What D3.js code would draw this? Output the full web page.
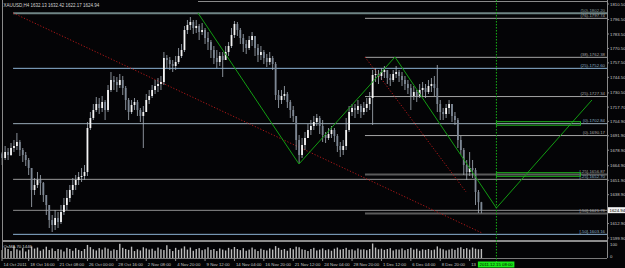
<!DOCTYPE html>
<html>
<head>
<meta charset="utf-8">
<script src="https://cdnjs.cloudflare.com/ajax/libs/d3/7.8.5/d3.min.js"></script>
<style>
  html, body { margin: 0; padding: 0; background: #040406; overflow: hidden; }
  svg { display: block; font-family: "Liberation Sans", "DejaVu Sans", sans-serif; }
</style>
</head>
<body>
<div id="chart"></div>
<script>

    /**
     *  Chart data
     */
    var titleText = "XAUUSD,H4  1632.13 1632.42 1622.17 1624.94";
    var subTitleText = "OsMA 70.1446";
    var cursorDate = "2011.12.15 08:00";
    var lastPrice = 1624.94;

    var firstOpen = 1676.0;
    var closes = [1671.9,1677.3,1674.6,1680.9,1682.7,1686.3,1679.1,1674.6,1670.1,1662.9,
                  1643.1,1647.6,1652.1,1649.4,1638.6,1629.6,1616.1,1611.6,1617.9,1614.3,
                  1623.3,1629.6,1635.9,1643.1,1647.6,1652.1,1654.8,1655.7,1659.3,1698.9,
                  1707.9,1715.1,1720.5,1716.9,1722.3,1715.1,1733.1,1742.1,1740.3,1737.6,
                  1742.1,1734.9,1724.1,1713.3,1719.6,1722.3,1715.1,1709.7,1713.3,1724.1,
                  1727.7,1733.1,1736.7,1738.5,1740.3,1761.9,1760.1,1756.5,1754.7,1758.3,
                  1763.7,1769.1,1787.1,1791.6,1794.3,1788.9,1790.7,1785.3,1787.1,1779.9,
                  1776.3,1769.1,1761.9,1758.3,1763.7,1760.1,1767.3,1772.7,1782.6,1792.5,
                  1787.1,1779.9,1774.5,1770.9,1778.1,1781.7,1770.9,1764.6,1767.3,1761.9,
                  1758.3,1761.9,1756.5,1728.6,1724.1,1727.7,1729.5,1722.3,1715.1,1709.7,
                  1688.1,1674.6,1683.6,1689.9,1697.1,1700.7,1704.3,1707.9,1700.7,1692.6,
                  1689.9,1693.5,1697.1,1691.7,1682.7,1679.1,1682.7,1697.1,1713.3,1716.9,
                  1715.1,1718.7,1713.3,1716.9,1720.5,1725.9,1746.6,1747.5,1745.7,1749.3,
                  1751.1,1743.9,1742.1,1747.5,1749.3,1745.7,1742.1,1738.5,1734.9,1727.7,
                  1731.3,1727.7,1733.1,1734.9,1731.3,1736.7,1738.5,1734.9,1720.5,1713.3,
                  1711.5,1716.9,1720.5,1709.7,1706.1,1688.1,1679.1,1665.6,1659.3,1662.9,
                  1661.1,1641.3,1632.13,1624.94];
    var highs  = [1677.3,1682.7,1680.9,1685.4,1688.1,1694.4,1688.1,1680.9,1677.3,1671.9,
                  1661.1,1653.9,1659.3,1656.6,1650.3,1638.6,1629.6,1620.6,1625.1,1623.3,
                  1629.6,1635.9,1643.1,1647.6,1653.9,1656.6,1659.3,1662.9,1665.6,1704.3,
                  1713.3,1720.5,1726.8,1725.9,1727.7,1724.1,1737.6,1749.3,1745.7,1744.8,
                  1747.5,1745.7,1736.7,1725.9,1724.1,1725.9,1724.1,1716.9,1718.7,1729.5,
                  1733.1,1737.6,1742.1,1743.9,1745.7,1767.3,1764.6,1762.8,1760.1,1763.7,
                  1770.9,1774.5,1790.7,1796.1,1798.8,1796.1,1796.1,1792.5,1793.4,1788.9,
                  1785.3,1778.1,1772.7,1769.1,1767.3,1767.3,1772.7,1776.3,1788.9,1795.2,
                  1794.3,1788.9,1783.5,1778.1,1781.7,1785.3,1781.7,1774.5,1772.7,1769.1,
                  1765.5,1767.3,1763.7,1758.3,1733.1,1733.1,1736.7,1731.3,1724.1,1718.7,
                  1709.7,1692.6,1689.9,1695.3,1702.5,1706.1,1709.7,1711.5,1709.7,1706.1,
                  1695.3,1698.9,1700.7,1698.9,1693.5,1686.3,1688.1,1707.9,1718.7,1720.5,
                  1720.5,1724.1,1720.5,1722.3,1725.9,1731.3,1751.1,1752.9,1751.1,1752.9,
                  1754.7,1749.3,1747.5,1751.1,1754.7,1751.1,1749.3,1745.7,1742.1,1738.5,
                  1736.7,1733.1,1738.5,1740.3,1738.5,1742.1,1743.9,1745.7,1755.6,1724.1,
                  1716.9,1720.5,1724.1,1720.5,1713.3,1707.9,1691.7,1680.9,1670.1,1677.3,
                  1670.1,1662.9,1643.1,1632.42];
    var lows   = [1665.6,1670.1,1670.1,1673.7,1677.3,1679.1,1673.7,1668.3,1664.7,1656.6,
                  1627.8,1638.6,1644.9,1638.6,1632.3,1620.6,1608.9,1605.3,1607.1,1608.9,
                  1612.5,1620.6,1625.1,1632.3,1638.6,1643.1,1647.6,1650.3,1652.1,1655.7,
                  1697.1,1706.1,1713.3,1711.5,1713.3,1706.1,1713.3,1731.3,1733.1,1731.3,
                  1734.9,1728.6,1715.1,1706.1,1711.5,1715.1,1709.7,1704.3,1680.9,1713.3,
                  1720.5,1725.9,1729.5,1731.3,1733.1,1737.6,1752.9,1751.1,1749.3,1751.1,
                  1756.5,1761.9,1767.3,1783.5,1787.1,1783.5,1784.4,1778.1,1782.6,1774.5,
                  1769.1,1761.9,1756.5,1752.9,1754.7,1744.8,1760.1,1763.7,1770.9,1779.9,
                  1781.7,1774.5,1767.3,1765.5,1769.1,1772.7,1763.7,1758.3,1760.1,1756.5,
                  1753.8,1755.6,1751.1,1724.1,1716.9,1720.5,1724.1,1716.9,1707.9,1704.3,
                  1679.1,1667.4,1671.9,1679.1,1689.9,1692.6,1697.1,1700.7,1693.5,1686.3,
                  1685.4,1688.1,1689.9,1686.3,1677.3,1672.8,1674.6,1679.1,1695.3,1709.7,
                  1707.9,1711.5,1707.9,1710.6,1713.3,1715.1,1701.6,1740.3,1738.5,1742.1,
                  1743.9,1738.5,1736.7,1740.3,1743.9,1740.3,1736.7,1733.1,1729.5,1715.1,
                  1724.1,1722.3,1725.9,1727.7,1725.9,1729.5,1731.3,1727.7,1713.3,1706.1,
                  1706.1,1707.9,1711.5,1704.3,1701.6,1680.9,1674.6,1656.6,1652.1,1655.7,
                  1653.9,1629.6,1622.4,1622.17];
    var volumes = [55,70,62,48,75,60,52,68,45,58,
                   80,65,72,50,60,78,55,66,48,62,
                   58,45,70,62,50,68,56,48,62,90,
                   75,60,52,68,58,72,64,50,60,55,
                   98,70,62,56,78,48,60,52,74,66,
                   58,64,50,72,60,55,88,62,48,70,
                   56,66,80,58,72,50,62,68,54,60,
                   74,56,62,48,66,58,52,70,60,76,
                   62,54,68,50,58,72,60,48,64,56,
                   52,66,58,82,70,56,62,50,68,60,
                   78,74,60,56,48,62,70,52,58,66,
                   54,60,50,64,72,58,62,70,56,60,
                   52,66,58,60,54,62,100,72,60,64,
                   56,62,68,52,60,58,66,54,62,70,
                   58,64,50,60,56,62,54,58,80,66,
                   60,52,58,64,56,70,74,62,68,58,
                   72,64,60,62];

    var priceTicks = [1810.50,1796.50,1783.50,1770.50,1757.50,1744.50,1730.50,1717.70,
                      1704.90,1691.90,1678.90,1664.90,1651.90,1638.90,1612.90,1599.90];
    var volumeTicks = [100, 0];

    // the last label is cut off by the cursor date box in the original
    var timeLabels = ["14 Oct 2011","18 Oct 16:00","21 Oct 08:00","26 Oct 00:00","28 Oct 16:00",
                      "2 Nov 08:00","4 Nov 20:00","9 Nov 12:00","14 Nov 04:00","16 Nov 20:00",
                      "21 Nov 12:00","24 Nov 04:00","28 Nov 20:00","1 Dec 12:00","6 Dec 04:00",
                      "8 Dec 20:00","13"];
    var timeLabelBars = [0,9,19,29,39,49,59,69,79,89,99,109,119,129,139,149,159];

    // long levels, drawn from the left trendline anchor
    var levelsAPrices = [1802.2, 1752.6, 1702.8, 1652.7, 1624.8, 1603.2];
    var levelsALabels = ["(50)-1802.20", "(25)-1752.60", "(0)-1702.84", "[-25]-1652.70", "", "[-50]-1603.16"];
    var levelsAStartBar = 3.7;

    // short levels, drawn from the second swing
    var levelsBPrices = [1797.6, 1762.5, 1727.2, 1692.1, 1657.0, 1621.9];
    var levelsBLabels = ["(76)-1797.74", "(38)-1762.38", "(25)-1727.34", "(0)-1690.17", "[-25]-1656.87", "[-50]-1621.78"];
    var levelsBStartBar = 123.4;

    var topLinePrice = 1812.75;
    var topLineStartBar = 66.6;

    // trendlines as [bar, price] pairs
    var redTrend1 = [[3.7, 1802.4], [163.2, 1604.4]];
    var redTrend2 = [[123.4, 1762.8], [157.8, 1641.3]];
    var zigzag = [[66.6, 1802.4], [100.95, 1666.5], [133.6, 1762.8], [168.1, 1626.9], [200.6, 1724.1]];
    var targetBoxes = [[168.1, 196.7, 1704.6, 1701.4], [168.1, 196.7, 1658.7, 1655.4]];
    var cursorBar = 168.1;


    /**
     *  Layout
     */
    var W = 625, H = 268;
    var left = 2, axisX = 607;
    var mainTop = 4, mainBottom = 238;
    var sepY = 240.5, volTop = 243.5, volBottom = 258;

    var x = d3.scaleLinear().domain([0, closes.length - 1]).range([2.2, 481.4]);
    var y = d3.scaleLinear().domain([1599.9, 1810.5]).range([mainBottom, mainTop]);
    var yv = d3.scaleLinear().domain([0, 100]).range([volBottom, volTop]);

    var bars = closes.map(function(c, i) {
        return { i: i, o: i === 0 ? firstOpen : closes[i - 1], h: highs[i], l: lows[i], c: c, v: volumes[i] };
    });

    var svg = d3.select("#chart").append("svg")
        .attr("width", W)
        .attr("height", H);

    svg.append("rect").attr("width", W).attr("height", H).attr("fill", "#040406");

    var plot = svg.append("g");

    // Horizontal levels
    plot.append("line")
        .attr("x1", x(topLineStartBar)).attr("x2", axisX)
        .attr("y1", y(topLinePrice)).attr("y2", y(topLinePrice))
        .attr("stroke", "#8a8a8a").attr("stroke-width", 1);

    var aColors = ["#6f8585", "#8db4d4", "#9aabb8", "#9a9a9a", "#8e8e8e", "#8db4d4"];
    levelsAPrices.forEach(function(p, k) {
        plot.append("line")
            .attr("x1", x(levelsAStartBar)).attr("x2", axisX)
            .attr("y1", y(p)).attr("y2", y(p))
            .attr("stroke", aColors[k])
            .attr("stroke-width", k === 0 ? 2 : 1);
    });

    levelsBPrices.forEach(function(p, k) {
        plot.append("line")
            .attr("x1", x(levelsBStartBar)).attr("x2", axisX)
            .attr("y1", y(p)).attr("y2", y(p))
            .attr("stroke", k >= 4 ? "#5a5a5a" : "#a4a4a4")
            .attr("stroke-width", k >= 4 ? 2 : 1);
    });

    // Level labels
    var lab = plot.append("g")
        .attr("font-size", 4.3)
        .attr("text-anchor", "end");

    levelsAPrices.forEach(function(p, k) {
        if (!levelsALabels[k]) return;
        lab.append("text")
            .attr("x", 605).attr("y", y(p) - 1.2)
            .attr("fill", k === 0 ? "#8fa0a0" : "#8fb0c8")
            .text(levelsALabels[k]);
    });
    levelsBPrices.forEach(function(p, k) {
        lab.append("text")
            .attr("x", 605).attr("y", y(p) - 1.2)
            .attr("fill", "#a8a8a8")
            .text(levelsBLabels[k]);
    });

    // Red dotted trendlines
    var line = d3.line()
        .x(function(d) { return x(d[0]); })
        .y(function(d) { return y(d[1]); });

    [redTrend1, redTrend2].forEach(function(t) {
        plot.append("path")
            .attr("d", line(t))
            .attr("fill", "none")
            .attr("stroke", "#b01818")
            .attr("stroke-width", 1)
            .attr("stroke-dasharray", "1.2,1.8");
    });

    // Volumes sub window
    plot.append("g").selectAll("rect")
        .data(bars)
        .enter()
        .append("rect")
        .attr("x", function(d) { return x(d.i) - 0.7; })
        .attr("width", 1.4)
        .attr("y", function(d) { return yv(d.v); })
        .attr("height", function(d) { return yv(0) - yv(d.v); })
        .attr("fill", "#bcbcbc");

    // Candles
    var candles = plot.append("g").selectAll("g")
        .data(bars)
        .enter()
        .append("g");

    candles.append("line")
        .attr("x1", function(d) { return x(d.i); })
        .attr("x2", function(d) { return x(d.i); })
        .attr("y1", function(d) { return y(Math.max(d.h, d.o, d.c)); })
        .attr("y2", function(d) { return y(Math.min(d.l, d.o, d.c)); })
        .attr("stroke", "#a9b3bd")
        .attr("stroke-width", 0.8);

    candles.append("rect")
        .attr("x", function(d) { return x(d.i) - 0.9; })
        .attr("width", 1.8)
        .attr("y", function(d) { return y(Math.max(d.o, d.c)); })
        .attr("height", function(d) { return Math.max(0.8, Math.abs(y(d.o) - y(d.c))); })
        .attr("fill", function(d) { return d.c >= d.o ? "#f4f4f4" : "#7d8794"; });

    // Green zigzag and target boxes
    plot.append("path")
        .attr("d", line(zigzag))
        .attr("fill", "none")
        .attr("stroke", "#129c12")
        .attr("stroke-width", 1);

    targetBoxes.forEach(function(b) {
        plot.append("rect")
            .attr("x", x(b[0])).attr("width", x(b[1]) - x(b[0]))
            .attr("y", y(b[2])).attr("height", y(b[3]) - y(b[2]))
            .attr("fill", "none")
            .attr("stroke", "#1fb01f")
            .attr("stroke-width", 1);
    });

    // Frame, separator
    var frame = svg.append("g").attr("shape-rendering", "crispEdges");
    frame.append("line").attr("x1", left).attr("x2", left).attr("y1", 0).attr("y2", volBottom)
        .attr("stroke", "#8a8a8a");
    frame.append("line").attr("x1", axisX).attr("x2", axisX).attr("y1", 0).attr("y2", volBottom)
        .attr("stroke", "#8a8a8a");
    frame.append("rect").attr("x", left).attr("width", axisX - left).attr("y", sepY - 1).attr("height", 2)
        .attr("fill", "#8c8c8c");
    frame.append("line").attr("x1", left).attr("x2", axisX).attr("y1", volBottom + 0.5).attr("y2", volBottom + 0.5)
        .attr("stroke", "#7a7a7a");

    // Cursor line
    svg.append("line")
        .attr("x1", x(cursorBar)).attr("x2", x(cursorBar))
        .attr("y1", 0).attr("y2", 262)
        .attr("stroke", "#16b416")
        .attr("stroke-width", 1)
        .attr("stroke-dasharray", "1.5,1.5");

    // Price axis
    var axisG = svg.append("g").attr("font-size", 4.3).attr("fill", "#c8c8c8");
    priceTicks.forEach(function(p) {
        axisG.append("line")
            .attr("x1", axisX).attr("x2", axisX + 2)
            .attr("y1", y(p)).attr("y2", y(p))
            .attr("stroke", "#8a8a8a");
        axisG.append("text")
            .attr("x", axisX + 3).attr("y", y(p) + 1.5)
            .text(p.toFixed(2));
    });
    volumeTicks.forEach(function(v) {
        axisG.append("text")
            .attr("x", axisX + 3).attr("y", yv(v) + (v === 0 ? 0 : 2.5))
            .text(v);
    });

    // current price marker
    svg.append("rect")
        .attr("x", axisX + 1).attr("width", 17)
        .attr("y", y(lastPrice) - 3).attr("height", 6)
        .attr("fill", "#f2f2f2");
    svg.append("text")
        .attr("x", axisX + 2.5).attr("y", y(lastPrice) + 1.6)
        .attr("font-size", 4.3).attr("fill", "#000")
        .text(lastPrice.toFixed(2));

    // Time axis
    var timeG = svg.append("g").attr("font-size", 4.3).attr("fill", "#c4c4c4");
    timeLabels.forEach(function(t, k) {
        var tx = k === 0 ? left : x(timeLabelBars[k]);
        timeG.append("line")
            .attr("x1", tx).attr("x2", tx)
            .attr("y1", volBottom).attr("y2", volBottom + 3)
            .attr("stroke", "#8a8a8a");
        timeG.append("text")
            .attr("x", tx + 1.5).attr("y", 265.8)
            .text(t);
    });

    // date label under the cursor
    svg.append("rect")
        .attr("x", x(cursorBar) - 18.5).attr("width", 36.5)
        .attr("y", 261.5).attr("height", 6)
        .attr("fill", "#18e818");
    svg.append("text")
        .attr("x", x(cursorBar) - 0.2).attr("y", 266.2)
        .attr("text-anchor", "middle")
        .attr("font-size", 4.3).attr("fill", "#000")
        .text(cursorDate);

    // Titles
    svg.append("text")
        .attr("x", 3.5).attr("y", 6.5)
        .attr("font-size", 4.5).attr("fill", "#d4d4d4")
        .text(titleText);
    svg.append("text")
        .attr("x", 3.5).attr("y", 247.5)
        .attr("font-size", 4.3).attr("fill", "#d4d4d4")
        .text(subTitleText);

</script>
</body>
</html>
